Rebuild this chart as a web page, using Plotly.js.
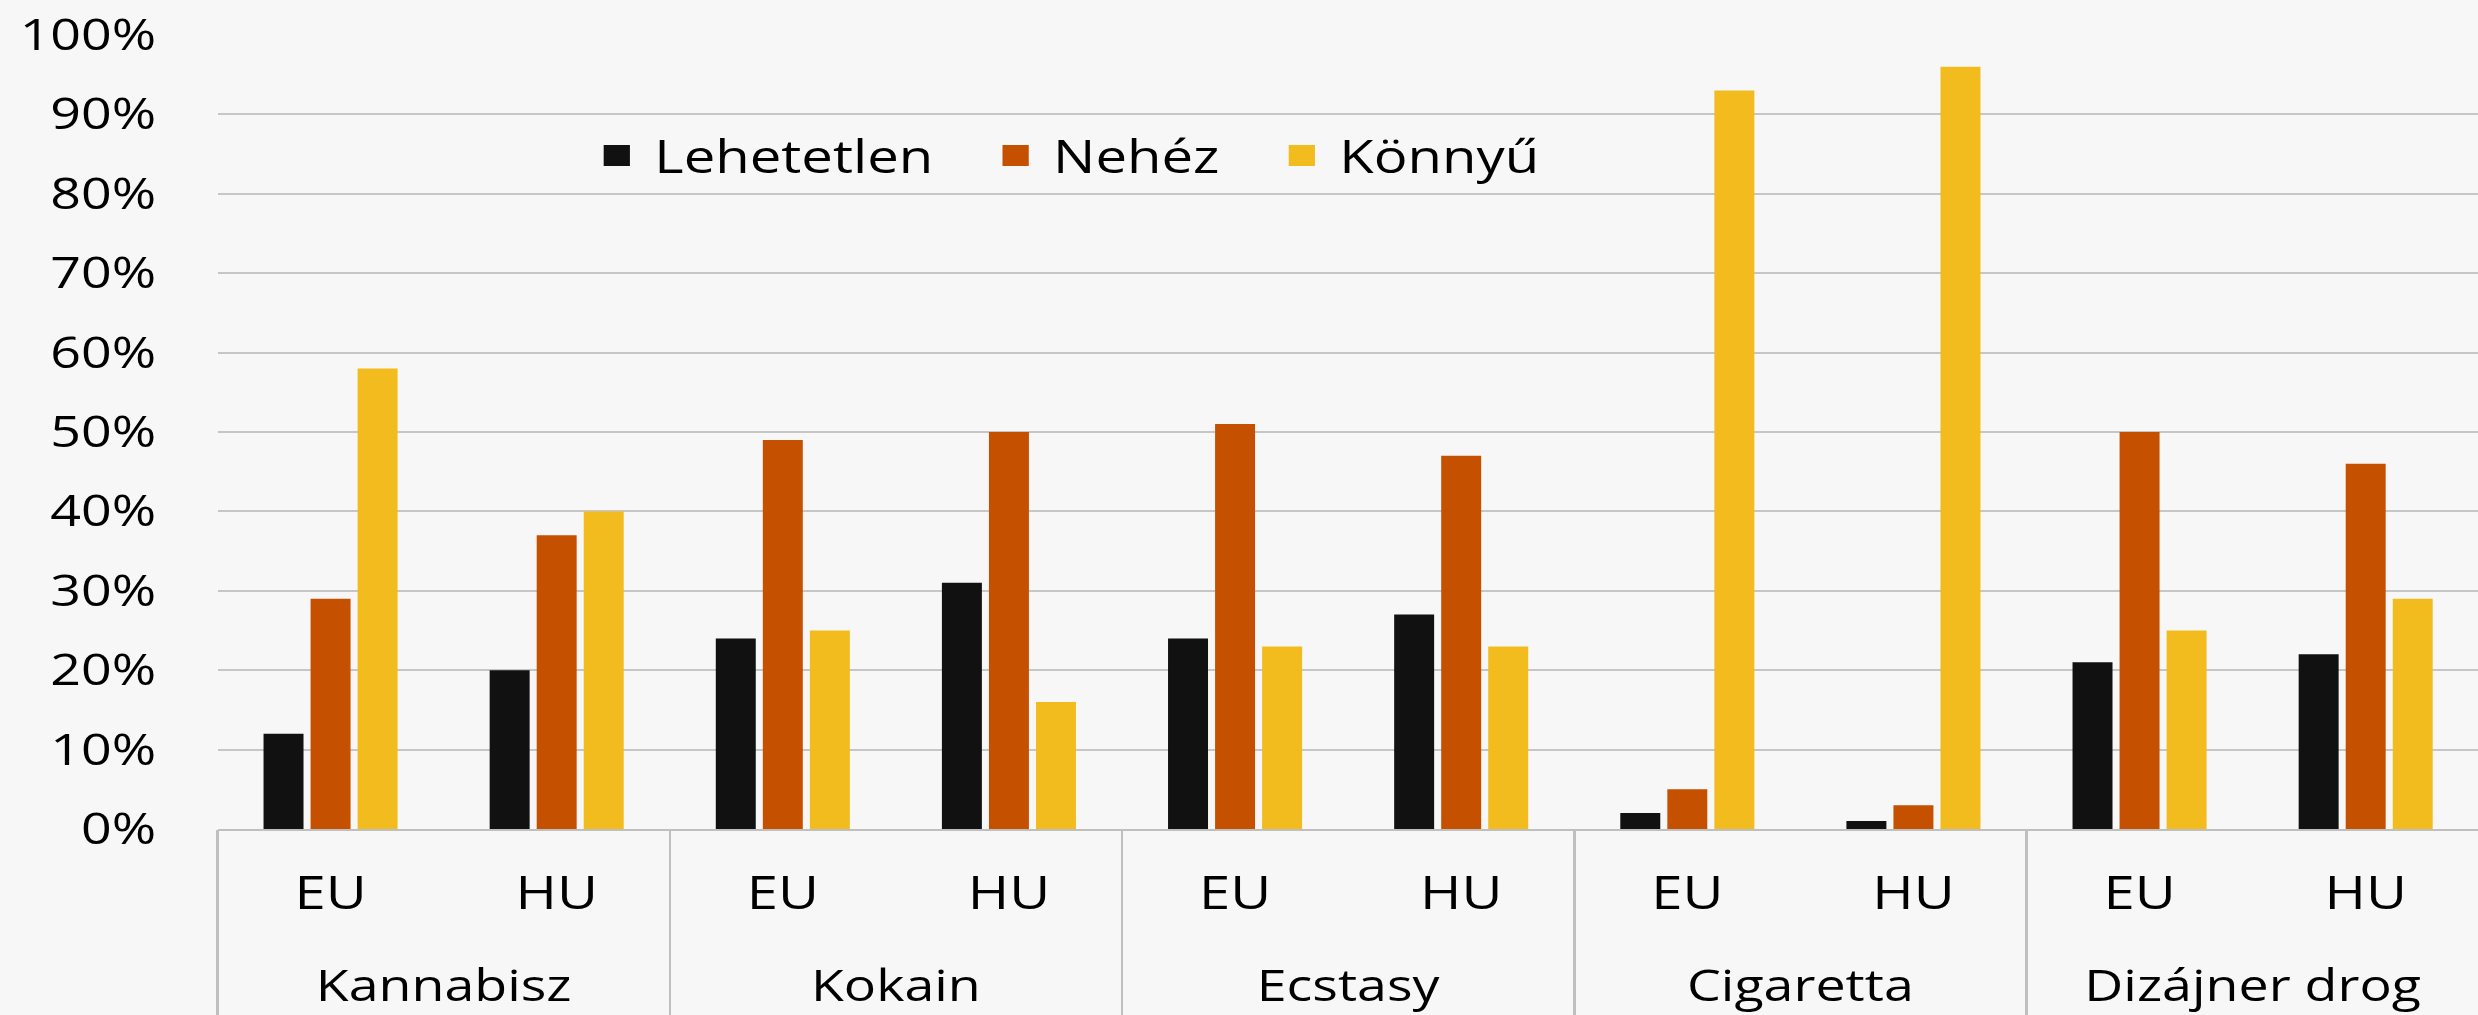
<!DOCTYPE html>
<html>
<head>
<meta charset="utf-8">
<script src="https://cdn.plot.ly/plotly-3.0.1.min.js"></script>
<style>
  html, body { margin: 0; padding: 0; background: #F7F7F7; overflow: hidden; }
  #chart { width: 1983px; height: 1015px; transform: scaleX(1.25); transform-origin: 0 0; }
</style>
</head>
<body>
<div id="chart"></div>
<script>
// Data (values in %)
const drugs = ["Kannabisz", "Kokain", "Ecstasy", "Cigaretta", "Dizájner drog"];
const regions = ["EU", "HU"];
const seriesNames = ["Lehetetlen", "Nehéz", "Könnyű"];
const seriesColors = ["#111111", "#C55000", "#F2BC1F"];
// order: Kannabisz EU, HU, Kokain EU, HU, Ecstasy EU, HU, Cigaretta EU, HU, Dizájner drog EU, HU
const lehetetlen = [12, 20, 24, 31, 24, 27, 2, 1, 21, 22];
const nehez      = [29, 37, 49, 50, 51, 47, 5, 3, 50, 46];
const konnyu     = [58, 40, 25, 16, 23, 23, 93, 96, 25, 29];
const yTickVals  = [0, 10, 20, 30, 40, 50, 60, 70, 80, 90, 100];
const yTickText  = yTickVals.map(v => v + "%");

const xTop = [], xSub = [];
drugs.forEach(d => regions.forEach(r => { xTop.push(d); xSub.push(r); }));

// category index positions on the shared category scale
const nCat = xSub.length;
const catRange = [-0.5, nCat - 0.5];
const subPos = xSub.map((_, i) => i);
const groupPos = drugs.map((_, i) => i * regions.length + (regions.length - 1) / 2);
const dividerPos = drugs.map((_, i) => i * regions.length - 0.5).concat([nCat - 0.5]);

const values = [lehetetlen, nehez, konnyu];
const traces = values.map((vals, i) => ({
  type: "bar",
  name: seriesNames[i],
  x: [xTop, xSub],
  y: vals,
  marker: { color: seriesColors[i] },
  showlegend: false,
  hoverinfo: "skip"
}));
// legend entries (no data), each hosted by one of the overlay label axes
const hostAxes = ["x2", "x3", "x4"];
seriesNames.forEach((n, i) => {
  traces.push({
    type: "scatter",
    mode: "markers",
    name: n + "\u00A0\u00A0\u2009",
    x: [null], y: [null],
    xaxis: hostAxes[i], yaxis: "y2",
    marker: { symbol: "square", size: 16, color: seriesColors[i], line: { color: seriesColors[i], width: 5 } },
    showlegend: true,
    hoverinfo: "skip"
  });
});

const overlayBase = {
  overlaying: "x", anchor: "y", side: "bottom", type: "linear",
  range: catRange, showgrid: false, zeroline: false, showline: false, fixedrange: true
};

const layout = {
  width: 1983,
  height: 1015,
  margin: { l: 174, r: 0, t: 35, b: 186 },
  paper_bgcolor: "#F7F7F7",
  plot_bgcolor: "#F7F7F7",
  font: { family: "Open Sans, sans-serif", color: "#000000", size: 42 },
  barmode: "group",
  bargap: 0.376,
  bargroupgap: 0.15,
  showlegend: true,
  legend: {
    orientation: "h",
    x: 0.16, xanchor: "left",
    y: 0.848, yanchor: "middle",
    font: { size: 45, color: "#000000" },
    itemwidth: 50,
    bgcolor: "rgba(0,0,0,0)",
    traceorder: "normal"
  },
  xaxis: {
    type: "multicategory",
    showgrid: false,
    showline: true,
    linecolor: "#BFBFBF",
    linewidth: 2,
    showdividers: false,
    showticklabels: false,
    ticks: "",
    fixedrange: true
  },
  xaxis2: Object.assign({}, overlayBase, {
    tickmode: "array", tickvals: subPos, ticktext: xSub,
    ticks: "", ticklabelstandoff: 34,
    tickfont: { size: 45, color: "#000000" }
  }),
  xaxis3: Object.assign({}, overlayBase, {
    tickmode: "array", tickvals: groupPos, ticktext: drugs,
    ticks: "", ticklabelstandoff: 128,
    tickfont: { size: 43, color: "#000000" }
  }),
  xaxis4: Object.assign({}, overlayBase, {
    tickmode: "array", tickvals: dividerPos, showticklabels: false,
    ticks: "outside", ticklen: 186, tickwidth: 2, tickcolor: "#BFBFBF"
  }),
  yaxis: {
    range: [0, 100],
    tickvals: yTickVals,
    ticktext: yTickText,
    showgrid: true,
    gridcolor: "#C6C6C6",
    gridwidth: 2,
    zeroline: false,
    showline: false,
    ticks: "",
    ticklabelstandoff: 48,
    tickfont: { size: 43, color: "#000000" },
    fixedrange: true
  },
  yaxis2: { visible: false, overlaying: "y", range: [0, 1], fixedrange: true }
};

Plotly.newPlot("chart", traces, layout, { displayModeBar: false, staticPlot: true });
</script>
</body>
</html>
